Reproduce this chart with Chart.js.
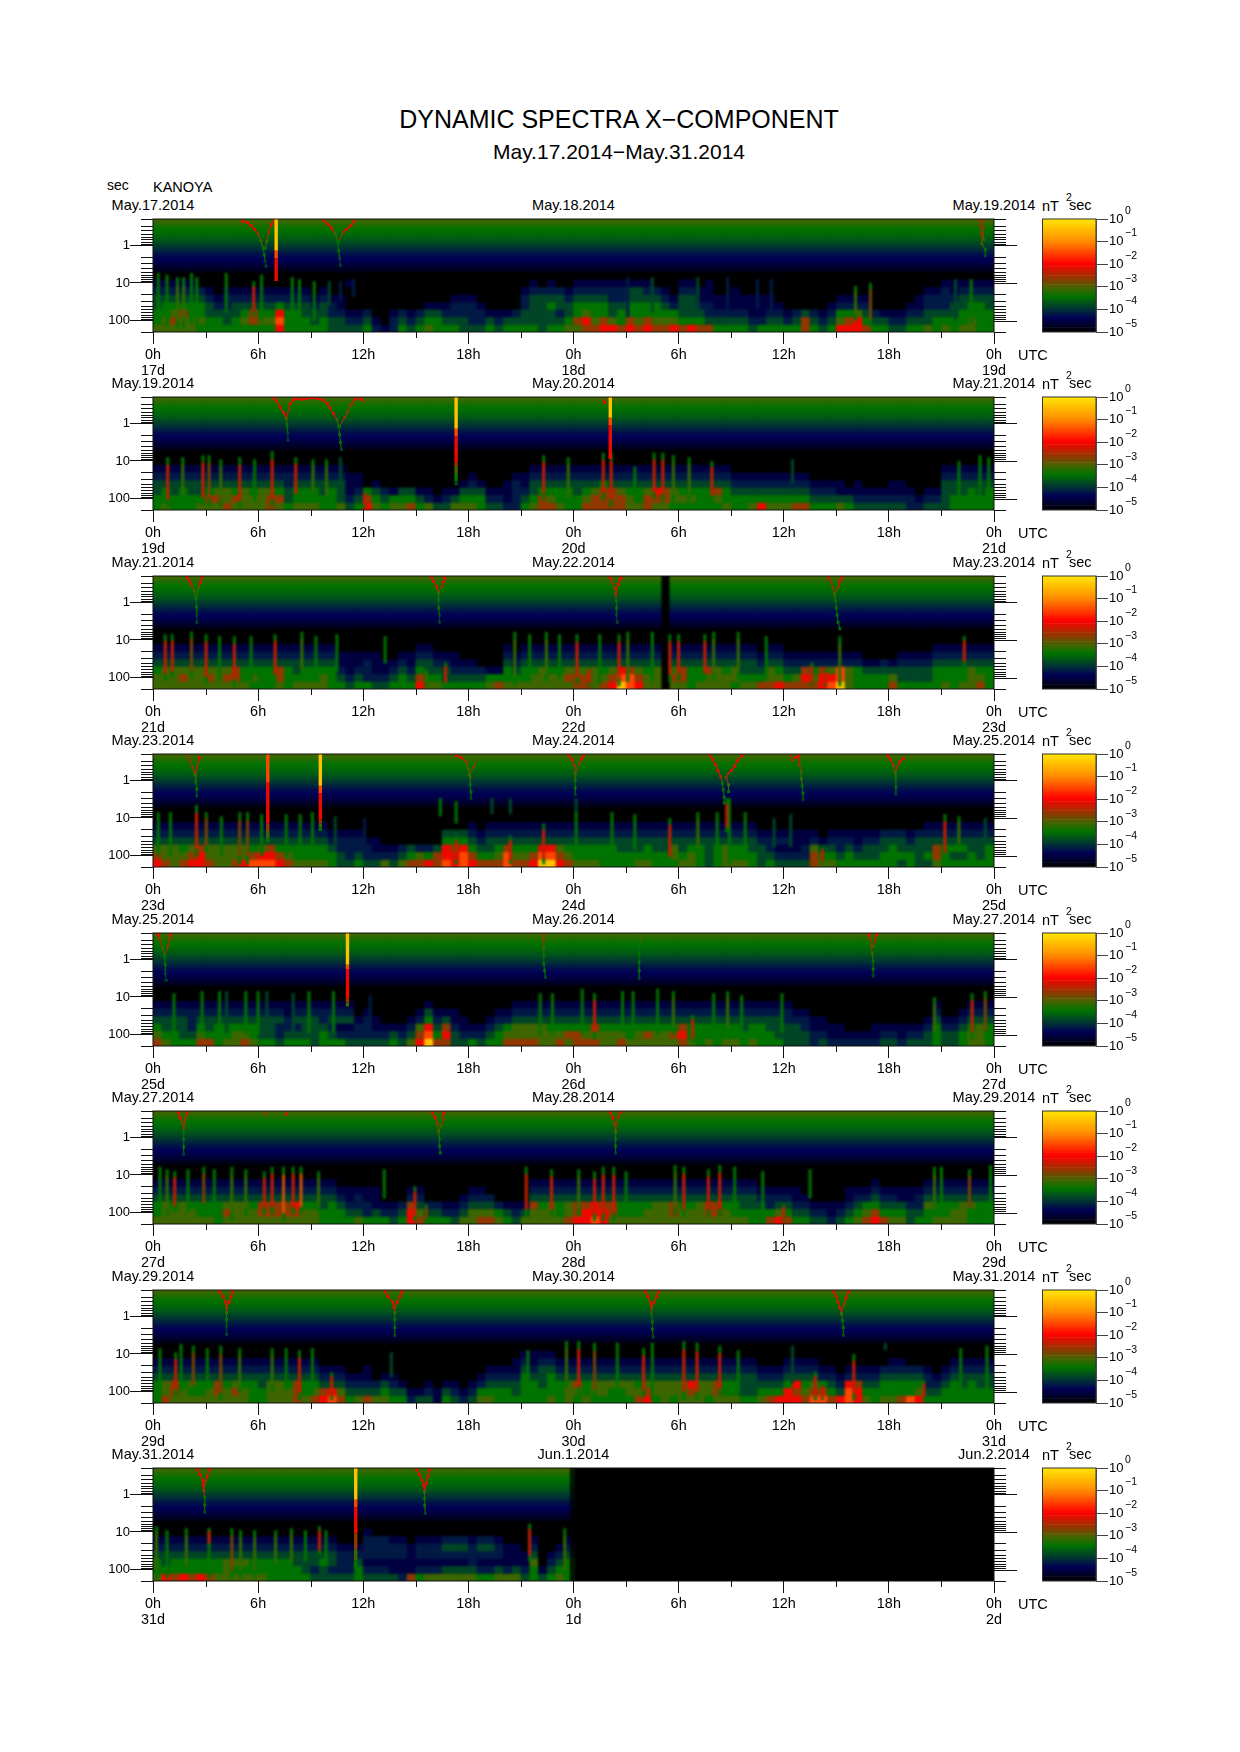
<!DOCTYPE html>
<html>
<head>
<meta charset="utf-8">
<script src="https://cdn.jsdelivr.net/npm/chart.js@4"></script>
<style>
  html, body { margin: 0; background: #fff; }
  body { position: relative; width: 1240px; height: 1752px; overflow: hidden; font-family: "Liberation Sans", sans-serif; color: #000; }
  canvas { position: absolute; }
  .t { position: absolute; white-space: nowrap; line-height: 1; font-size: 14.5px; }
  .c { transform: translateX(-50%); }
</style>
</head>
<body>
<script>
// dates and labels of each panel
const leftDates = ['May.17.2014', 'May.19.2014', 'May.21.2014', 'May.23.2014', 'May.25.2014', 'May.27.2014', 'May.29.2014', 'May.31.2014'];
const midDates = ['May.18.2014', 'May.20.2014', 'May.22.2014', 'May.24.2014', 'May.26.2014', 'May.28.2014', 'May.30.2014', 'Jun.1.2014'];
const rightDates = ['May.19.2014', 'May.21.2014', 'May.23.2014', 'May.25.2014', 'May.27.2014', 'May.29.2014', 'May.31.2014', 'Jun.2.2014'];
const dayLabels = [['17d', '18d', '19d'], ['19d', '20d', '21d'], ['21d', '22d', '23d'], ['23d', '24d', '25d'], ['25d', '26d', '27d'], ['27d', '28d', '29d'], ['29d', '30d', '31d'], ['31d', '1d', '2d']];

// axes
const periodTicks = [1, 10, 100];
const minorPeriods = [.2, .3, .4, .5, .6, .7, .8, .9, 2, 3, 4, 5, 6, 7, 8, 9, 20, 30, 40, 50, 60, 70, 80, 90, 200];
const minorHours = [3, 9, 15, 21, 27, 33, 39, 45];
const powerTicks = [1e-5, 1e-4, 1e-3, 1e-2, 1e-1, 1];
const powerExponents = ['\u22125', '\u22124', '\u22123', '\u22122', '\u22121', '0'];

// colour scale: log10 power, r, g, b
const colorStops = [[-5, 0, 0, 0], [-4.4, 0, 0, 85], [-4, 0, 52, 52], [-3.45, 0, 115, 0], [-3.05, 70, 100, 0], [-2.7, 135, 60, 0], [-2, 255, 0, 0], [-1, 255, 140, 0], [0, 255, 230, 0]];
const barPowers = [-5, -4.9, -4.8, -4.7, -4.6, -4.5, -4.4, -4.3, -4.2, -4.1, -4, -3.9, -3.8, -3.7, -3.6, -3.5, -3.4, -3.3, -3.2, -3.1, -3, -2.9, -2.8, -2.7, -2.6, -2.5, -2.4, -2.3, -2.2, -2.1, -2, -1.9, -1.8, -1.7, -1.6, -1.5, -1.4, -1.3, -1.2, -1.1, -1, -.9, -.8, -.7, -.6, -.5, -.4, -.3, -.2, -.1];

// one digit in the tables below = one of these log10 powers
const digitPowers = [-5, -4.55, -4.2, -3.85, -3.45, -3.1, -2.65, -2.1, -1.5, -.4];

// period rows: background above 5 s, read-off table below it
const floorEdges = [.2, .25, .317, .4, .5, .63, .8, 1, 1.26, 1.58, 2, 2.5, 3.2, 4, 5];
const floorPowers = [-3.12, -3.28, -3.42, -3.5, -3.6, -3.7, -3.85, -4, -4.15, -4.3, -4.4, -4.5, -4.65, -4.8];
const activityEdges = [5, 8, 12.6, 20, 32, 50, 79, 126, 200];
const spikeSeconds = [.2, .28, .35, .45, .56, .71, .89, 1.1, 1.4, 1.8, 2.2, 2.8, 3.5, 4.5, 5.6, 7.1, 8.9, 11, 14, 18, 22, 28, 35, 45, 56, 71, 89, 110, 140, 180];

// half-hour columns, each one is 8 rows from 5 s down to 200 s; one line = 6 h
const activity17 = `
01233445 01234455 01234565 01234655 01234455 00234454 00123344 00012344 00122334 00123344 00123454 00123664
00123454 00123454 00124787 00123444 00123444 00123344 00012334 00123344 00012233 00011233 01000123 00000123
00000234 00000012 00000001 00000122 00000234 00000123 00000234 00001345 00001344 00001234 00012234 00012233
00012223 00001223 00000134 00000123 00000134 00000234 00122334 01233334 00233333 01234334 00233234 00123345
01234465 01234576 01234456 01234467 01223357 01223446 01334467 01334456 01234467 00234456 00123456 00012457
01233346 01233347 00112346 01112236 00011234 00011234 00111234 00011234 00011123 00011124 00011234 00001234
00000124 00000234 00000366 00000234 00000123 00001234 00012457 00012467 00012577 00012346 00000234 00000134
00000123 00000123 00001234 00011234 00122335 00122344 01222345 01123344 01233445 01234455 01234444 01233444`;
const activity19 = `
00123344 00123445 00123344 00123444 00123344 00123345 00123465 00123565 00123556 00123465 00123555 00123455
00123555 00123566 00123465 00122334 00123445 00123445 00123445 00123344 00123444 00123335 00011123 00011234
00000467 00001345 00000234 00000145 00000345 00000346 00000134 00000125 00000013 00000123 00000135 00001345
00012345 00001344 00000123 00000123 00001112 00012222 00011234 00123345 00123466 00123456 00123445 00123444
00123344 00123456 00123566 00124666 00123666 00123566 00123455 00123445 00123566 00123765 00123665 00123554
00123454 00123454 00123444 00123444 00123654 00123445 00012344 00012344 00012345 00012347 00012345 00012345
00012345 00012346 00012346 00001234 00001234 00001234 00001135 00000134 00001123 00000123 00000123 00000123
00001123 00001123 00000122 00000012 00000123 00000123 00123333 00123344 00123344 00123444 00123344 00123444`;
const activity21 = `
00123455 00123555 00123555 00123565 00123555 00123555 00123565 00123555 00123565 00123665 00123445 00123454
00123444 00123444 00123665 00123444 00123345 00123445 00123445 00123455 00123444 00011234 00011123 00011234
00012224 00011123 00001123 00001234 00012344 00011234 00123467 00123345 00012345 00012334 00011234 00001234
00001234 00000234 00000145 00000146 00123445 00012345 00123445 00123455 00123555 00123455 00123455 00123565
00123566 00123566 00123555 00123456 00123567 00123789 00123688 00123567 00123455 00123555 00000000 00123565
00123665 00123444 00123445 00123655 00123555 00123455 00123554 00123345 00123345 00012346 00123556 00123457
00012346 00012356 00012676 00012456 00012677 00012578 00012889 00012555 00012444 00001344 00001344 00002344
00001356 00012334 00012334 00012334 00012334 00123444 00123445 00123444 00123445 00123555 00123456 00123444`;
const activity23 = `
00123567 00123556 00123555 00123456 00123567 00123677 00123556 00123555 00123555 00123556 00123557 00123468
00123578 00123678 00123467 00123456 00123445 00123445 00123445 00123445 00012344 00012233 00012223 00012234
00001223 00001123 00000125 00000123 00000235 00000346 00000256 00000247 00000366 00034778 00034677 00034788
00123467 00012346 00123346 00123456 00123688 00123456 00123456 00123467 00123789 00123789 00123567 00123456
00123445 00123445 00123445 00123444 00123444 00123344 00123344 00123345 00123445 00123344 00123344 00123554
00123345 00123455 00123444 00123333 00123444 00123555 00123445 00123445 00123344 00012333 00012234 00012123
00012123 00011123 00011223 00012566 00001345 00012345 00012234 00012344 00011234 00012334 00012334 00023344
00023444 00023343 00012344 00023333 00123343 00123665 00123444 00123434 00123434 00123344 00123334 00123444`;
const activity25 = `
00123456 00123345 00123344 00123334 00122234 00123456 00123346 00123444 00123445 00123455 00123456 00123445
00123334 00123334 00123223 00112234 00123234 00123334 00123333 00122344 00123234 00123124 00123123 00001223
00012223 00001123 00000123 00000134 00000123 00001235 00012567 00134789 00012346 00013676 00011233 00001123
00000124 00000123 00001234 00012344 00012456 00123556 00123556 00123556 00123555 00123455 00123456 00123465
00123466 00123456 00123656 00123455 00123455 00123456 00123445 00123455 00123465 00123455 00123455 00123465
00123676 00123445 00123444 00123445 00123444 00123445 00123445 00123344 00123445 00123444 00123344 00123334
00122333 00012333 00012233 00001122 00001123 00000112 00000112 00000012 00000012 00000012 00000112 00000123
00000123 00000112 00000123 00000123 00001233 00123444 00001233 00001233 00012344 00123455 00123555 00123444`;
const activity27 = `
00123445 00123555 00123455 00123555 00123455 00123445 00123445 00123444 00123565 00123555 00123555 00123455
00123665 00123665 00123665 00123665 00123765 00123455 00123455 00123344 00123444 00012344 00011234 00012235
00011224 00011134 00000124 00000123 00000234 00012677 00012356 00000234 00000234 00000124 00000123 00001235
00012355 00012356 00002356 00000245 00000134 00000123 00000135 00123655 00123455 00123555 00123445 00123556
00123667 00123677 00123778 00123677 00123665 00123445 00123445 00123445 00123455 00123555 00123555 00123665
00123455 00123455 00123555 00123665 00123665 00123455 00123445 00123345 00123344 00012344 00012246 00012357
00012346 00011234 00001234 00000123 00000123 00000112 00000123 00011234 00012345 00012456 00123467 00012346
00012345 00011345 00011233 00012234 00123544 00123445 00123445 00123455 00123555 00123544 00123444 00123444`;
const activity29 = `
00123444 00123556 00123665 00123455 00123545 00123445 00123455 00123665 00123455 00123565 00123455 00123444
00123344 00123555 00123555 00123455 00123666 00123445 00123456 00012367 00012378 00012356 00001234 00001235
00011236 00000235 00001345 00001234 00000134 00000012 00000013 00000123 00000011 00000134 00000123 00000012
00000123 00001245 00012345 00012344 00012344 00112334 01234444 01123444 01233344 01234445 00123444 00123555
00123654 00123445 00123554 00123554 00123544 00123544 00123554 00123456 00123567 00123554 00123555 00123554
00123555 00123765 00123555 00123554 00123665 00123445 00123445 00123334 00123334 00012345 00012346 00012347
00123477 00123767 00123456 00123568 00012468 00012346 00001237 00012788 00012677 00012345 00012344 00023445
00123445 00123446 00023448 00023457 00012234 00001234 00012344 00123444 00123344 00123444 00123344 00123344`;
const activity31 = `
00123445 00123347 00123446 00123447 00123446 00123447 00123446 00123445 00123555 00123545 00123545 00123445
00123445 00123444 00123444 00123444 00123344 00123334 00123323 00123433 00123323 00012223 00012223 00012344
01222123 00222123 00222123 00122113 00122112 00011116 00122124 00122125 00122125 00232135 00232135 00232135
00122235 00232124 00232124 00122135 00011125 00011135 00001123 00123544 00000013 00001234 00012345 00123444`;

// narrow streaks: hour, upper seconds, lower seconds, digit
const streaks17 = [[.3, 5.4, 120, 4], [.8, 6, 140, 4], [1.4, 7, 160, 5], [1.75, 7, 170, 5], [2.2, 5.4, 120, 4], [2.5, 7, 150, 4], [4.18, 5.4, 60, 4], [5.75, 9, 78, 7], [6.2, 6, 100, 4], [7.95, 7, 120, 4], [8.36, 8, 110, 4], [9.2, 9, 100, 4], [10.06, 9, 40, 3], [10.7, 9, 30, 2], [11.45, 8, 24, 2], [27.1, 7, 80, 2], [28.5, 7, 60, 3], [31.1, 7, 80, 3], [32.8, 7, 50, 2], [34.5, 8, 50, 2], [35.3, 8, 60, 2], [40.1, 12, 100, 5], [40.95, 10, 140, 6], [45.8, 8, 100, 3], [46.7, 8, 120, 4]];
const streaks19 = [[.84, 8, 170, 7], [1.7, 8, 120, 5], [2.85, 7, 150, 7], [3.2, 7, 160, 6], [3.87, 9, 170, 5], [4.95, 8, 180, 7], [5.8, 9, 120, 4], [6.8, 5.4, 170, 7], [8.15, 8, 110, 7], [9.13, 9, 100, 5], [9.9, 9, 120, 5], [10.7, 8, 100, 3], [12.07, 60, 170, 7], [22.3, 7, 110, 7], [23.7, 8, 150, 5], [25.7, 6, 110, 7], [26.15, 6, 170, 7], [27.5, 14, 110, 4], [28.6, 6, 100, 7], [29.1, 6, 120, 7], [29.7, 7, 120, 5], [30.6, 8, 120, 5], [31.9, 10, 120, 7], [36.5, 9, 40, 3], [46, 10, 100, 4], [47.2, 7, 100, 4], [47.7, 8, 120, 4]];
const streaks21 = [[.7, 7, 120, 7], [1.1, 7, 100, 7], [2.2, 6, 100, 6], [3.03, 7, 150, 7], [3.8, 8, 120, 4], [4.64, 8, 170, 7], [5.6, 8, 120, 4], [6.97, 7, 130, 7], [8.5, 6, 100, 5], [9.3, 8, 80, 4], [10.5, 7, 70, 4], [13.25, 8, 42, 4], [15.6, 60, 170, 5], [16.7, 40, 170, 7], [20.65, 6, 160, 5], [21.5, 7, 130, 4], [22.45, 6, 130, 5], [23.2, 7, 110, 4], [24.2, 7, 150, 7], [24.9, 50, 170, 7], [25.5, 7, 150, 4], [26.6, 7, 170, 7], [27.1, 6, 130, 5], [28.5, 6, 130, 4], [29.5, 7, 130, 7], [30, 7, 120, 7], [31.5, 7, 120, 7], [32, 6, 120, 5], [33.4, 6, 110, 5], [35, 8, 100, 4], [37.6, 40, 170, 7], [38.4, 60, 170, 7], [39.2, 8, 170, 5], [46.3, 8, 50, 7]];
const streaks23 = [[.3, 7, 100, 4], [1, 7, 100, 4], [2.48, 4.5, 110, 7], [3.04, 7, 78, 6], [3.9, 9, 100, 4], [4.95, 7, 170, 6], [5.4, 7, 170, 6], [6.2, 8, 100, 4], [7.6, 8, 110, 4], [8.4, 8, 100, 4], [9.1, 7, 90, 4], [10.4, 9, 70, 3], [12.07, 10, 60, 2], [16.4, 3, 9, 4], [17.3, 3.6, 14, 4], [17.3, 30, 170, 7], [19.35, 3, 8, 3], [20.4, 3, 8, 3], [20.4, 30, 170, 7], [22.3, 14, 170, 7], [24.15, 3, 8, 3], [24.15, 7, 80, 4], [26.2, 7, 130, 4], [27.5, 8, 70, 4], [29.5, 10, 160, 7], [31.1, 7, 100, 5], [32.2, 7, 90, 4], [32.9, 3, 170, 4], [32.75, 3, 24, 7], [33.8, 7, 90, 4], [35.45, 10, 60, 3], [36.4, 8, 60, 3], [38.2, 60, 170, 7], [45.2, 8, 130, 7], [46, 9, 60, 5], [47.5, 10, 50, 3]];
const streaks25 = [[1.2, 8, 100, 4], [2.8, 7, 110, 4], [3.8, 7, 130, 4], [4.2, 7, 90, 3], [5.3, 7, 100, 4], [6, 7, 100, 4], [6.5, 7, 100, 3], [8, 8, 80, 3], [8.9, 7, 90, 4], [10.3, 7, 90, 4], [12.4, 9, 50, 2], [22.1, 8, 100, 4], [22.8, 8, 100, 4], [24.5, 6, 100, 4], [25.2, 8, 130, 7], [26.8, 7, 90, 4], [27.4, 7, 100, 4], [28.8, 6, 100, 4], [29.7, 7, 100, 5], [30.8, 30, 170, 7], [32, 8, 100, 4], [32.8, 7, 100, 5], [33.6, 9, 100, 4], [35.9, 8, 90, 4], [44.6, 10, 130, 5], [46.75, 8, 130, 7], [47.5, 7, 120, 6]];
const streaks27 = [[.4, 6, 130, 4], [.8, 7, 120, 5], [1.24, 8, 100, 7], [2, 7, 100, 4], [2.9, 6, 90, 6], [3.5, 7, 90, 4], [4.5, 6, 170, 5], [5.3, 7, 120, 5], [6.35, 8, 110, 7], [6.8, 6, 110, 7], [7.45, 6, 170, 8], [8, 6, 110, 7], [8.45, 6, 110, 8], [9.45, 8, 100, 5], [13.2, 7, 42, 4], [14.95, 20, 170, 7], [15.6, 60, 170, 6], [21.3, 6, 130, 7], [22.75, 7, 130, 7], [24.3, 7, 120, 5], [25.2, 8, 170, 7], [25.7, 6, 170, 7], [26.3, 6, 170, 7], [27, 8, 110, 4], [29.8, 5.4, 120, 5], [30.3, 6, 130, 7], [31.7, 7, 130, 7], [32.35, 5.4, 130, 7], [33.2, 6, 120, 4], [34.8, 8, 100, 4], [36, 60, 170, 7], [37.5, 7, 42, 4], [44.6, 6, 130, 5], [45, 6, 120, 4], [46.6, 7, 110, 6], [47.8, 5.4, 130, 4]];
const streaks29 = [[.4, 7, 130, 4], [1.3, 9, 130, 7], [1.6, 5.4, 110, 4], [2.3, 6, 100, 6], [3.1, 7, 90, 4], [3.87, 6, 170, 6], [4.95, 7, 110, 5], [6.8, 7, 100, 5], [7.6, 7, 90, 4], [8.36, 8, 170, 7], [9.1, 7, 120, 4], [10.2, 30, 170, 7], [13.6, 9, 42, 3], [21.4, 8, 120, 4], [23.6, 4.5, 78, 5], [24.3, 4.5, 120, 7], [25.2, 5, 150, 6], [26.5, 5, 90, 4], [28, 7, 140, 7], [28.5, 5, 170, 4], [30.3, 4.5, 170, 7], [31.05, 5, 170, 7], [32.35, 6, 130, 7], [33.4, 8, 100, 4], [36.5, 6, 60, 3], [37.8, 30, 170, 7], [38.2, 60, 170, 7], [40, 10, 170, 7], [41.8, 5, 8, 3], [44, 50, 170, 7], [46.1, 7, 120, 4], [47.6, 6, 110, 4]];
const streaks31 = [[.2, 7, 170, 5], [.8, 9, 170, 4], [1.9, 8, 120, 5], [3.2, 8, 170, 4], [3.2, 8, 24, 7], [4.5, 8, 170, 6], [5, 9, 170, 5], [5.8, 9, 170, 5], [7, 9, 100, 5], [7.9, 8, 90, 5], [8.7, 9, 60, 4], [9.5, 7, 40, 7], [9.87, 9, 60, 4], [21.5, 6, 60, 7], [23.5, 8, 170, 5], [23.9, .2, 200, 0]];

// bright vertical lines: hour, digits down the spikeSeconds rows
const spikes17 = [[7.03, '999999998877777770000000000000']];
const spikes19 = [[17.3, '999999998877777776554433000000'], [26.1, '999998877777777770000000000000']];
const spikes21 = [];
const spikes23 = [[6.55, '888888877777777777665544000000'], [9.55, '999999998877777776544000000000']];
const spikes25 = [[11.1, '999999998777777776540000000000']];
const spikes27 = [];
const spikes29 = [];
const spikes31 = [[11.57, '999999998877777776666555444000']];

// arms of the V shaped traces: hour, seconds, digit; null ends an arm
const dots17 = [[5.1, .23, 7], [5.4, .25, 7], [5.6, .3, 7], [5.8, .38, 7], [6, .5, 6], [6.15, .75, 5], [6.3, 1.2, 4], [6.35, 1.8, 4], [6.4, 2.6, 3], [6.45, 3.6, 3], null, [6.4, 1.2, 4], [6.5, .8, 5], [6.6, .45, 6], [6.75, .28, 7], [6.95, .22, 7], null,
  [9.75, .22, 7], [10, .28, 7], [10.2, .35, 7], [10.4, .5, 5], [10.55, .8, 4], [10.6, 1.4, 4], [10.65, 2.2, 3], [10.7, 3.4, 3], null, [10.6, .8, 4], [10.85, .45, 6], [11.05, .38, 7], [11.3, .3, 7], [11.45, .23, 7], null,
  [47.2, .22, 6], [47.2, .3, 6], [47.3, .5, 6], [47.3, .9, 5], [47.5, 1.3, 4], [47.5, 1.9, 3], null, [47.4, .22, 6], [47.4, .35, 6], [47.4, .7, 5]];
const dots19 = [[6.9, .21, 7], [7.05, .25, 7], [7.25, .37, 7], [7.45, .52, 7], [7.6, .75, 5], [7.65, 1.1, 4], [7.68, 1.8, 3], [7.7, 2.8, 3], null, [7.6, .75, 5], [7.85, .3, 7], [8, .24, 7], [8.2, .22, 7], [8.5, .23, 7], [8.8, .22, 7], [9.1, .21, 7], [9.4, .22, 7], [9.7, .24, 7], [9.95, .3, 7], [10.1, .38, 7], [10.3, .55, 7], [10.5, .8, 5], [10.6, 1.2, 4], [10.65, 2, 4], [10.7, 3.2, 4], [10.75, 5, 3], null, [10.65, 1.2, 4], [10.95, .7, 6], [11.1, .5, 6], [11.3, .33, 6], [11.55, .22, 7], [11.9, .23, 7], [12.1, .27, 5], null,
  [25.7, .24, 6], [25.8, .28, 7]];
const dots21 = [[1.95, .22, 7], [2.1, .28, 7], [2.2, .35, 6], [2.35, .5, 5], [2.45, .8, 4], [2.48, 1.3, 4], [2.5, 2.2, 3], [2.5, 3.4, 3], null, [2.45, .8, 4], [2.6, .42, 5], [2.7, .3, 7], [2.8, .22, 7], null,
  [15.9, .22, 7], [16, .28, 7], [16.2, .38, 7], [16.3, .55, 5], [16.3, .85, 4], [16.3, 1.4, 4], [16.35, 2.2, 3], [16.35, 3.4, 3], null, [16.3, .55, 5], [16.5, .38, 6], [16.6, .28, 7], [16.65, .22, 7], null,
  [26.1, .22, 7], [26.2, .3, 6], [26.35, .42, 6], [26.4, .6, 6], [26.45, .9, 4], [26.45, 1.4, 4], [26.45, 2.2, 3], [26.5, 3.4, 3], null, [26.4, .6, 6], [26.55, .33, 7], [26.65, .25, 7], [26.72, .22, 7], null,
  [38.55, .22, 7], [38.7, .28, 6], [38.8, .4, 6], [38.9, .6, 5], [38.95, .9, 4], [39, 1.4, 4], [39.05, 2.2, 4], [39.1, 3.4, 4], [39.2, 5, 4], null, [38.9, .6, 5], [39.1, .4, 6], [39.2, .28, 7], [39.3, .22, 7]];
const dots23 = [[2, .22, 6], [2.1, .3, 6], [2.25, .45, 6], [2.4, .7, 5], [2.45, 1.1, 4], [2.5, 1.7, 4], [2.5, 2.6, 3], null, [2.4, .7, 5], [2.65, .25, 7], null,
  [17.3, .22, 7], [17.6, .25, 7], [17.9, .33, 6], [18, .5, 5], [18.1, .8, 5], [18.1, 1.3, 4], [18.15, 2, 4], [18.15, 3, 3], null, [18.05, .7, 5], [18.3, .45, 6], [18.5, .25, 5], null,
  [23.7, .21, 7], [23.9, .28, 7], [24.05, .4, 6], [24.1, .65, 5], [24.1, 1, 4], [24.1, 1.6, 4], [24.1, 2.4, 3], null, [24.1, .65, 5], [24.35, .35, 6], [24.45, .27, 7], [24.6, .22, 7], null,
  [31.75, .21, 7], [31.95, .28, 7], [32.1, .38, 7], [32.25, .55, 7], [32.4, .8, 6], [32.5, 1.2, 4], [32.55, 1.8, 4], [32.6, 2.8, 4], [32.6, 4, 4], null, [32.85, 2, 4], [32.85, 1.3, 5], [32.7, .85, 6], [32.85, .65, 6], [33, .55, 7], [33.2, .42, 7], [33.35, .3, 7], [33.6, .22, 7], null,
  [36.4, .22, 6], [36.5, .3, 6], null, [36.65, .25, 7], [36.85, .22, 7], [36.9, .4, 6], [37, .6, 5], [37, .9, 5], [37.05, 1.4, 4], [37.1, 2.2, 4], [37.1, 3.2, 3], null,
  [41.95, .22, 7], [42.1, .28, 7], [42.25, .4, 6], [42.35, .6, 5], [42.4, .9, 4], [42.4, 1.5, 4], [42.4, 2.3, 3], null, [42.35, .6, 5], [42.6, .33, 7], [42.8, .27, 7], [43, .22, 5]];
const dots25 = [[.3, .22, 7], [.4, .3, 6], [.55, .5, 5], [.65, .8, 4], [.7, 1.4, 4], [.7, 2.4, 3], [.75, 3.6, 3], null, [.65, .8, 4], [.85, .45, 6], [.95, .3, 6], [1, .22, 7], null,
  [22.3, .22, 6], [22.3, .3, 6], [22.3, .5, 5], [22.3, .8, 4], [22.3, 1.3, 4], [22.35, 2, 4], [22.4, 3, 3], null,
  [27.85, .22, 5], [27.8, .4, 4], [27.75, .7, 4], [27.75, 1.2, 4], [27.75, 2, 4], [27.75, 3.2, 3], null,
  [40.85, .22, 7], [40.95, .3, 6], [41, .45, 6], [41.05, .7, 5], [41.1, 1.1, 4], [41.1, 1.8, 4], [41.1, 2.8, 3], null, [41.3, .22, 7], [41.1, .45, 5]];
const dots27 = [[1.45, .22, 7], [1.55, .3, 7], [1.7, .42, 6], [1.75, .7, 4], [1.75, 1.1, 4], [1.75, 1.8, 4], [1.75, 2.8, 3], null, [1.75, .7, 4], [1.85, .33, 6], [1.95, .22, 7], null,
  [15.95, .22, 7], [16.1, .3, 7], [16.25, .45, 6], [16.3, .7, 5], [16.35, 1.1, 4], [16.35, 1.7, 4], [16.4, 2.6, 4], null, [16.3, .7, 5], [16.45, .5, 5], [16.55, .33, 6], [16.6, .22, 7], null,
  [26.1, .22, 7], [26.25, .3, 7], [26.35, .45, 6], [26.4, .7, 5], [26.4, 1.1, 4], [26.4, 1.7, 4], [26.4, 2.6, 3], null, [26.4, .7, 5], [26.55, .3, 6], [26.7, .21, 7], null,
  [6.4, .24, 6], null, [7.6, .24, 7]];
const dots29 = [[3.8, .22, 7], [4, .3, 7], [4.15, .42, 7], [4.2, .58, 6], [4.2, .8, 5], [4.2, 1.2, 4], [4.2, 1.9, 3], [4.2, 3, 3], null, [4.2, .58, 6], [4.35, .42, 7], [4.45, .3, 7], [4.55, .22, 7], null,
  [13.25, .22, 7], [13.4, .3, 7], [13.7, .42, 7], [13.75, .58, 7], [13.8, .8, 5], [13.8, 1.2, 4], [13.8, 2, 4], [13.8, 3.2, 3], null, [13.8, .58, 6], [13.95, .42, 7], [14.1, .3, 7], [14.2, .22, 7], null,
  [28.1, .22, 7], [28.25, .3, 7], [28.4, .45, 7], [28.45, .6, 6], [28.45, .9, 4], [28.5, 1.4, 4], [28.5, 2.2, 4], [28.55, 3.6, 3], null, [28.45, .6, 6], [28.6, .42, 7], [28.75, .3, 7], [28.85, .22, 7], null,
  [38.85, .22, 7], [39, .3, 7], [39.1, .42, 7], [39.2, .58, 7], [39.3, .85, 5], [39.35, 1.3, 4], [39.4, 2, 4], [39.4, 3.2, 3], null, [39.3, .85, 5], [39.45, .48, 6], [39.55, .33, 7], [39.7, .22, 7]];
const dots31 = [[2.55, .22, 7], [2.7, .3, 7], [2.85, .42, 7], [2.85, .55, 7], [2.9, .8, 6], [2.95, 1.2, 4], [2.95, 1.9, 4], [2.95, 3, 3], null, [2.9, .8, 6], [3, .45, 6], [3.1, .33, 7], [3.2, .22, 7], null,
  [15.05, .22, 7], [15.2, .3, 7], [15.35, .42, 7], [15.45, .58, 7], [15.5, .85, 5], [15.5, 1.3, 4], [15.5, 2, 4], [15.55, 3.2, 3], null, [15.5, .85, 5], [15.6, .5, 7], [15.7, .33, 7], [15.8, .22, 7]];

// hours with no data, drawn black
const gaps = [[], [], [[29, 29.5]], [], [], [], [], [[24, 48]]];

const panelActivity = [activity17, activity19, activity21, activity23, activity25, activity27, activity29, activity31];
const panelStreaks = [streaks17, streaks19, streaks21, streaks23, streaks25, streaks27, streaks29, streaks31];
const panelSpikes = [spikes17, spikes19, spikes21, spikes23, spikes25, spikes27, spikes29, spikes31];
const panelDots = [dots17, dots19, dots21, dots23, dots25, dots27, dots29, dots31];

const FONT = '"Liberation Sans", sans-serif';
const PANEL_TOP = 219, PANEL_STEP = 178.43;
const COLUMNS = 96;

function powerColor(p) {
  for (let i = 1; i < colorStops.length; i++) {
    const a = colorStops[i - 1], b = colorStops[i];
    if (p <= b[0]) {
      const f = Math.max(0, (p - a[0]) / (b[0] - a[0]));
      return `rgb(${Math.round(a[1] + (b[1] - a[1]) * f)},${Math.round(a[2] + (b[2] - a[2]) * f)},${Math.round(a[3] + (b[3] - a[3]) * f)})`;
    }
  }
  return 'rgb(255,230,0)';
}
const digitColor = d => powerColor(digitPowers[+d]);

function addText(text, left, top, opts) {
  const el = document.createElement('div');
  el.className = 't' + (opts && opts.center ? ' c' : '');
  el.textContent = text;
  el.style.left = left + 'px';
  el.style.top = top + 'px';
  if (opts && opts.size) el.style.fontSize = opts.size + 'px';
  document.body.appendChild(el);
}

function addCanvas(left, top, width, height) {
  const c = document.createElement('canvas');
  c.width = width; c.height = height;
  c.style.left = left + 'px'; c.style.top = top + 'px';
  document.body.appendChild(c);
  return c;
}

// black ground, soft table cells, frame, and the short ticks the axes cannot draw
const panelFrame = {
  id: 'panelFrame',
  beforeDraw(chart) {
    const a = chart.chartArea, ctx = chart.ctx;
    ctx.fillStyle = '#000';
    ctx.fillRect(a.left, a.top, a.width, a.height);
  },
  afterDatasetDraw(chart, args) {
    if (args.index !== 0) return;
    const a = chart.chartArea, ctx = chart.ctx;
    ctx.save();
    ctx.beginPath();
    ctx.rect(a.left, a.top, a.width, a.height);
    ctx.clip();
    ctx.filter = 'blur(1.1px)';
    ctx.drawImage(chart.canvas, 0, 0, chart.width, chart.height);
    ctx.restore();
  },
  afterDraw(chart) {
    const a = chart.chartArea, ctx = chart.ctx, y = chart.scales.y, x = chart.scales.x;
    ctx.save();
    ctx.strokeStyle = '#111';
    ctx.lineWidth = 1;
    ctx.strokeRect(a.left, a.top, a.width, a.height);
    ctx.beginPath();
    minorPeriods.forEach(v => {
      const py = Math.round(y.getPixelForValue(v)) + .5;
      ctx.moveTo(a.left - 12, py); ctx.lineTo(a.left, py);
      ctx.moveTo(a.right, py); ctx.lineTo(a.right + 12, py);
    });
    periodTicks.forEach(v => {
      const py = Math.round(y.getPixelForValue(v)) + .5;
      ctx.moveTo(a.right, py); ctx.lineTo(a.right + 23, py);
    });
    minorHours.forEach(v => {
      const px = Math.round(x.getPixelForValue(v)) + .5;
      ctx.moveTo(px, a.bottom); ctx.lineTo(px, a.bottom + 6);
    });
    ctx.stroke();
    ctx.restore();
  }
};

// frame and exponents of the colour bar
const barExponents = {
  id: 'barExponents',
  afterDraw(chart) {
    const ctx = chart.ctx, y = chart.scales.y, a = chart.chartArea;
    ctx.save();
    ctx.strokeStyle = '#333';
    ctx.lineWidth = 1;
    ctx.strokeRect(a.left + .5, a.top, a.width - .5, a.height);
    ctx.fillStyle = '#000';
    ctx.font = '10.5px ' + FONT;
    ctx.textBaseline = 'middle';
    powerTicks.forEach((v, i) => {
      ctx.fillText(powerExponents[i], a.right + 29, y.getPixelForValue(v) - 8);
    });
    ctx.restore();
  }
};

// line pieces colored by the stronger digit at their two ends
function lineSet(list, width, order, radius) {
  const digits = list.map(d => (d ? d[2] : 0));
  return {
    type: 'scatter', showLine: true, spanGaps: false, order,
    borderWidth: width, borderColor: '#000',
    pointStyle: 'rect', pointRadius: radius, pointBorderWidth: 0,
    pointBackgroundColor: digits.map(digitColor),
    segment: { borderColor: c => digitColor(Math.max(digits[c.p0DataIndex], digits[c.p1DataIndex])) },
    data: list.map(d => (d ? { x: d[0], y: d[1] } : { x: null, y: null }))
  };
}

function panelDatasets(i) {
  const inGap = h => gaps[i].some(g => h >= g[0] && h < g[1]);
  const sets = [];
  // strong streaks get a green sheath with the red core inside it
  const sheath = [], cores = [];
  panelStreaks[i].forEach(s => {
    if (s[3] > 4) {
      sheath.push([s[0], s[1], 4], [s[0], s[2], 4], null);
      const span = Math.log10(s[2] / s[1]);
      cores.push([s[0], s[1] * Math.pow(10, span * .15), s[3]], [s[0], s[2] * Math.pow(10, -span * .15), s[3]], null);
    } else {
      sheath.push([s[0], s[1], s[3]], [s[0], s[2], s[3]], null);
    }
  });
  // the core set is index 0 so the soft pass runs right after it
  sets.push(lineSet(cores, 2.4, 2, 0));
  sets.push(lineSet(sheath, 3, 2, 0));
  // background rows
  floorPowers.forEach((p, r) => {
    const data = [];
    for (let c = 0; c < COLUMNS; c++) {
      const h = (c + .5) / 2;
      if (!inGap(h)) data.push({ x: h, y: [floorEdges[r], floorEdges[r + 1]] });
    }
    sets.push({ data, backgroundColor: powerColor(p), grouped: false, order: 2, barPercentage: 1, categoryPercentage: 1 });
  });
  // read-off rows below 5 s
  const cols = panelActivity[i].trim().split(/\s+/);
  for (let r = 0; r < activityEdges.length - 1; r++) {
    const data = [], colors = [];
    cols.forEach((col, c) => {
      const h = (c + .5) / 2;
      if (inGap(h)) return;
      data.push({ x: h, y: [activityEdges[r], activityEdges[r + 1]] });
      colors.push(digitColor(col[r]));
    });
    sets.push({ data, backgroundColor: colors, grouped: false, order: 2, barPercentage: 1, categoryPercentage: 1 });
  }
  // V traces
  sets.push(lineSet(panelDots[i], 1.2, 1, 2));
  // bright lines
  panelSpikes[i].forEach(s => {
    const piece = [];
    spikeSeconds.forEach((sec, r) => {
      if (s[1][r] !== '0') piece.push([s[0], sec, +s[1][r]]);
    });
    sets.push(lineSet(piece, 3.4, 0, 0));
  });
  return sets;
}

function drawPanel(i) {
  const top = PANEL_TOP + PANEL_STEP * i;
  const days = dayLabels[i];
  new Chart(addCanvas(0, top - 4, 1040, 167), {
    type: 'bar',
    data: { datasets: panelDatasets(i) },
    plugins: [panelFrame],
    options: {
      responsive: false,
      animation: false,
      events: [],
      layout: { autoPadding: false, padding: { left: 0, right: 46, top: 4, bottom: 0 } },
      plugins: { legend: { display: false }, tooltip: { enabled: false } },
      scales: {
        x: {
          type: 'linear', min: 0, max: 48, offset: false,
          afterFit: s => { s.height = 50; s.paddingLeft = 0; s.paddingRight = 0; },
          border: { display: false },
          grid: { offset: false, drawOnChartArea: false, tickLength: 12, tickColor: '#111' },
          afterBuildTicks: s => { s.ticks = [0, 6, 12, 18, 24, 30, 36, 42, 48].map(v => ({ value: v })); },
          ticks: {
            color: '#000', padding: 3, maxRotation: 0, autoSkip: false,
            font: { family: FONT, size: 14.4, lineHeight: 1.1 },
            callback: v => (v % 24 === 0 ? ['0h', days[v / 24]] : (v % 24) + 'h')
          }
        },
        y: {
          type: 'logarithmic', reverse: true, min: .2, max: 200,
          afterFit: s => { s.width = 153; s.paddingTop = 0; s.paddingBottom = 0; },
          afterBuildTicks: s => { s.ticks = periodTicks.map(v => ({ value: v })); },
          border: { display: false },
          grid: { drawOnChartArea: false, tickLength: 23, tickColor: '#111' },
          ticks: { color: '#000', padding: 0, font: { family: FONT, size: 13 }, callback: v => String(v) }
        }
      }
    }
  });
  const y = top;
  addText(leftDates[i], 153, y - 21, { center: true });
  addText(midDates[i], 573.5, y - 21, { center: true });
  addText(rightDates[i], 994, y - 21, { center: true });
  addText('nT', 1042, y - 20);
  addText('2', 1066, y - 27, { size: 10.5 });
  addText('sec', 1069, y - 21);
  addText('UTC', 1018, y + 129);
}

function drawColorBar(i) {
  const top = PANEL_TOP + PANEL_STEP * i;
  const sets = barPowers.map(p => ({
    data: [[Math.pow(10, p), Math.pow(10, p + .1)]],
    backgroundColor: powerColor(p + .05), grouped: false, barPercentage: 1, categoryPercentage: 1
  }));
  new Chart(addCanvas(1042, top - 16, 198, 137), {
    type: 'bar',
    data: { labels: [''], datasets: sets },
    plugins: [barExponents],
    options: {
      responsive: false,
      animation: false,
      events: [],
      layout: { autoPadding: false, padding: { left: 0, right: 0, top: 16, bottom: 8 } },
      plugins: { legend: { display: false }, tooltip: { enabled: false } },
      scales: {
        x: { display: false },
        y: {
          type: 'logarithmic', position: 'right', min: 1e-5, max: 1,
          afterFit: s => { s.width = 144; s.paddingTop = 0; s.paddingBottom = 0; },
          afterBuildTicks: s => { s.ticks = powerTicks.map(v => ({ value: v })); },
          border: { display: true, color: '#666' },
          grid: { drawOnChartArea: false, tickLength: 12, tickColor: '#444' },
          ticks: { color: '#000', padding: 1, font: { family: FONT, size: 13 }, callback: () => '10' }
        }
      }
    }
  });
}

addText('DYNAMIC SPECTRA X\u2212COMPONENT', 619, 107, { center: true, size: 25 });
addText('May.17.2014\u2212May.31.2014', 619, 141, { center: true, size: 21 });
addText('sec', 107, 178, { size: 14 });
addText('KANOYA', 153, 180);

for (let i = 0; i < 8; i++) {
  drawPanel(i);
  drawColorBar(i);
}
</script>
</body>
</html>
